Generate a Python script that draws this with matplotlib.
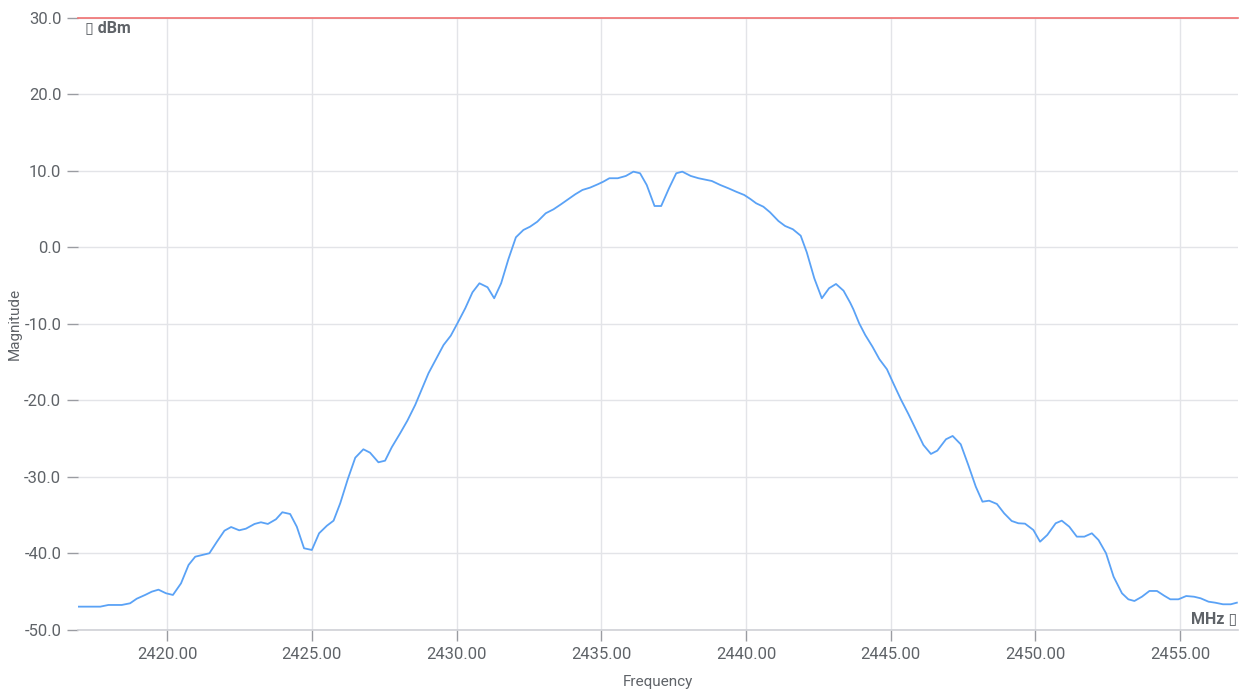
import matplotlib.pyplot as plt
from matplotlib.ticker import FormatStrFormatter, MultipleLocator

plt.rcParams['font.family'] = ['Roboto', 'DejaVu Sans']

# spectrum sweep, MHz / dBm
freq_mhz = [2416.94, 2417.69, 2417.97, 2418.43, 2418.72, 2418.95, 2419.24, 2419.47, 2419.70, 2419.96,
            2420.20, 2420.48, 2420.74, 2420.97, 2421.46, 2421.72, 2421.98, 2422.21, 2422.49, 2422.72,
            2423.02, 2423.24, 2423.48, 2423.76, 2423.98, 2424.25, 2424.48, 2424.73, 2425.00, 2425.25,
            2425.52, 2425.75, 2425.98, 2426.24, 2426.50, 2426.78, 2427.01, 2427.30, 2427.53, 2427.76,
            2428.05, 2428.30, 2428.57, 2428.80, 2429.03, 2429.29, 2429.55, 2429.80, 2430.03, 2430.30,
            2430.55, 2430.79, 2431.07, 2431.30, 2431.54, 2431.79, 2432.05, 2432.31, 2432.54, 2432.79,
            2433.08, 2433.35, 2433.61, 2433.87, 2434.10, 2434.35, 2434.61, 2434.88, 2435.07, 2435.28,
            2435.57, 2435.85, 2436.11, 2436.34, 2436.57, 2436.84, 2437.07, 2437.34, 2437.59, 2437.80,
            2438.09, 2438.36, 2438.82, 2439.11, 2439.39, 2439.66, 2439.94, 2440.15, 2440.35, 2440.60,
            2440.83, 2441.12, 2441.35, 2441.62, 2441.89, 2442.10, 2442.36, 2442.62, 2442.87, 2443.11,
            2443.37, 2443.60, 2443.71, 2443.91, 2444.12, 2444.37, 2444.61, 2444.87, 2445.09, 2445.36,
            2445.61, 2445.88, 2446.13, 2446.39, 2446.61, 2446.91, 2447.14, 2447.42, 2447.68, 2447.94,
            2448.17, 2448.40, 2448.67, 2448.92, 2449.18, 2449.41, 2449.64, 2449.93, 2450.16, 2450.41,
            2450.70, 2450.91, 2451.17, 2451.43, 2451.69, 2451.95, 2452.18, 2452.44, 2452.70, 2452.99,
            2453.21, 2453.42, 2453.68, 2453.94, 2454.20, 2454.45, 2454.66, 2454.94, 2455.21, 2455.48,
            2455.71, 2455.98, 2456.21, 2456.48, 2456.75, 2456.96]
magnitude_dbm = [-46.95, -46.95, -46.73, -46.73, -46.51, -45.91, -45.42, -44.99, -44.73, -45.20,
                 -45.42, -43.90, -41.50, -40.42, -39.97, -38.46, -37.02, -36.54, -36.97, -36.76,
                 -36.14, -35.92, -36.14, -35.53, -34.61, -34.84, -36.50, -39.32, -39.54, -37.36,
                 -36.37, -35.71, -33.44, -30.30, -27.48, -26.38, -26.82, -28.08, -27.87, -26.12,
                 -24.29, -22.64, -20.59, -18.50, -16.44, -14.58, -12.75, -11.53, -9.91, -7.95,
                 -5.86, -4.68, -5.20, -6.64, -4.68, -1.54, 1.33, 2.29, 2.72, 3.37,
                 4.47, 4.99, 5.65, 6.34, 6.95, 7.52, 7.82, 8.26, 8.60, 9.05,
                 9.05, 9.35, 9.91, 9.70, 8.17, 5.42, 5.42, 7.74, 9.70, 9.91,
                 9.35, 9.05, 8.69, 8.17, 7.74, 7.29, 6.86, 6.34, 5.78, 5.33,
                 4.60, 3.46, 2.81, 2.38, 1.54, -0.63, -4.03, -6.64, -5.33, -4.77,
                 -5.65, -7.22, -8.08, -9.91, -11.44, -12.97, -14.61, -15.92, -17.75, -19.93,
                 -21.76, -23.86, -25.82, -26.99, -26.56, -25.07, -24.64, -25.73, -28.43, -31.27,
                 -33.23, -33.10, -33.53, -34.75, -35.75, -36.05, -36.10, -36.93, -38.46, -37.58,
                 -36.05, -35.71, -36.50, -37.80, -37.80, -37.36, -38.24, -39.97, -43.03, -45.20,
                 -45.99, -46.21, -45.65, -44.90, -44.90, -45.52, -45.99, -45.99, -45.56, -45.65,
                 -45.86, -46.30, -46.43, -46.64, -46.64, -46.43]
limit_dbm = 30.0
x_range = (2416.92, 2457.0)
y_range = (-50, 30)

text_col = '#5f6368'
grid_col = '#e3e4e8'

fig = plt.figure(figsize=(12.4, 6.91), dpi=100)
ax = fig.add_axes([0.0629, 0.0883, 0.9355, 0.8857])

ax.plot(freq_mhz, magnitude_dbm, color='#5aa2f6', lw=1.3, zorder=3)
ax.axhline(limit_dbm, color='#f07070', lw=1.2, zorder=4, clip_on=False)

ax.set_xlim(*x_range)
ax.set_ylim(*y_range)
ax.xaxis.set_major_locator(MultipleLocator(5))
ax.yaxis.set_major_locator(MultipleLocator(10))
ax.xaxis.set_major_formatter(FormatStrFormatter('%.2f'))
ax.yaxis.set_major_formatter(FormatStrFormatter('%.1f'))

ax.grid(True, color=grid_col, lw=1.0, zorder=0)
for side in ['left', 'right', 'top']:
    ax.spines[side].set_visible(False)
ax.spines['bottom'].set_color('#cfd1d6')
ax.spines['bottom'].set_linewidth(1.2)
ax.tick_params(axis='both', colors='#9a9ca2', labelcolor=text_col, labelsize=12,
               length=8, width=1.0, pad=4)

ax.set_xlabel('Frequency', color=text_col, fontsize=11, labelpad=9.5)
ax.set_ylabel('Magnitude', color=text_col, fontsize=11, labelpad=2)

# unit captions inside the plot area
ax.text(0.006, 0.997, '\u25af dBm', transform=ax.transAxes, ha='left', va='top',
        fontsize=11.5, fontweight='bold', color=text_col, family=['Roboto', 'DejaVu Sans'])
ax.text(0.999, 0.006, 'MHz \u25af', transform=ax.transAxes, ha='right', va='bottom',
        fontsize=11.5, fontweight='bold', color=text_col, family=['Roboto', 'DejaVu Sans'])

fig.savefig('out.png', dpi=100, facecolor='white')
